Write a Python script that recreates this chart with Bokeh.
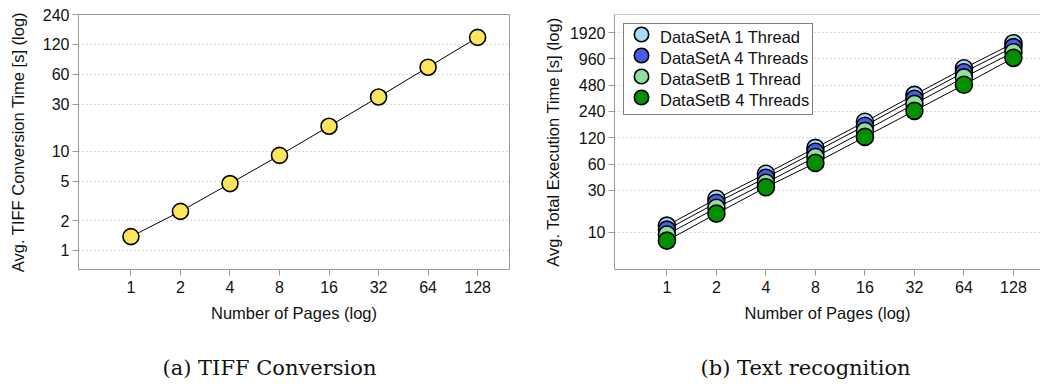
from bokeh.plotting import figure
from bokeh.models import (FixedTicker, Range1d, Legend, LegendItem, Title, Span,
                          PrintfTickFormatter)
from bokeh.layouts import row
from bokeh.embed import file_html
from bokeh.resources import INLINE

# ---- data ----
pages = [1, 2, 4, 8, 16, 32, 64, 128]
tiff_time = [1.38, 2.48, 4.73, 9.1, 17.9, 35.3, 70.6, 141]

a_1thread = [11.9, 24.1, 46.6, 92, 183, 372, 748, 1450]
a_4threads = [10.7, 21.7, 42.0, 83, 165, 335, 674, 1306]
b_1thread = [9.4, 19.0, 36.7, 72.4, 144, 293, 589, 1142]
b_4threads = [8.0, 16.3, 32.7, 62, 123, 244, 485, 985]

series_names = ["DataSetA 1 Thread", "DataSetA 4 Threads",
                "DataSetB 1 Thread", "DataSetB 4 Threads"]
series_colors = ["#a4dbf5", "#4a5be8", "#8fe09f", "#009000"]

left_yticks = [1, 2, 5, 10, 30, 60, 120, 240]
right_yticks = [10, 30, 60, 120, 240, 480, 960, 1920]

SANS = "Liberation Sans"
GRAY = "#9a9a9a"


def style(p, yticks, label_standoff):
    p.xaxis.ticker = FixedTicker(ticks=pages)
    p.yaxis.ticker = FixedTicker(ticks=yticks)
    p.xaxis.formatter = PrintfTickFormatter(format="%d")
    p.yaxis.formatter = PrintfTickFormatter(format="%d")
    p.xgrid.visible = False
    p.ygrid.grid_line_color = "#b0b0b0"
    p.ygrid.grid_line_dash = "1 3"
    p.ygrid.grid_line_width = 1
    for ax in (p.xaxis[0], p.yaxis[0]):
        ax.axis_line_color = GRAY
        ax.major_tick_line_color = GRAY
        ax.minor_tick_line_color = None
        ax.major_tick_out = 6
        ax.major_tick_in = 0
        ax.major_label_text_font = SANS
        ax.major_label_text_font_size = "16px"
        ax.major_label_text_color = "#111111"
        ax.axis_label_text_font = SANS
        ax.axis_label_text_font_size = "16.5px"
        ax.axis_label_text_font_style = "normal"
        ax.axis_label_text_color = "#111111"
    p.xaxis.major_label_standoff = 5
    p.xaxis.axis_label_standoff = 8
    p.yaxis.major_label_standoff = 3
    p.yaxis.axis_label_standoff = label_standoff
    p.background_fill_color = "white"
    p.border_fill_color = "white"


def caption(p, text, offset):
    # leading empty line pushes the caption further below the axis label
    p.add_layout(Title(text="\n" + text, align="left", vertical_align="bottom",
                       text_font="DejaVu Serif", text_font_size="21px",
                       text_font_style="normal", text_color="#111111",
                       offset=offset, standoff=10), "below")


# ---- (a) TIFF conversion ----
p1 = figure(width=520, height=387, x_axis_type="log", y_axis_type="log",
            x_range=Range1d(0.48, 200), y_range=Range1d(0.643, 240),
            output_backend="svg", toolbar_location=None,
            min_border_left=78, min_border_right=11, min_border_top=14,
            min_border_bottom=118)
p1.outline_line_color = GRAY
p1.line(pages, tiff_time, line_color="black", line_width=1)
p1.scatter(pages, tiff_time, size=16, fill_color="#fde55e", line_color="black",
           line_width=1.6)
p1.xaxis.axis_label = "Number of Pages (log)"
p1.yaxis.axis_label = "Avg. TIFF Conversion Time [s] (log)"
style(p1, left_yticks, 13)
caption(p1, "(a) TIFF Conversion", 84)

# ---- (b) Text recognition ----
p2 = figure(width=520, height=387, x_axis_type="log", y_axis_type="log",
            x_range=Range1d(0.48, 187), y_range=Range1d(3.745, 3085),
            output_backend="svg", toolbar_location=None,
            min_border_left=94, min_border_right=0, min_border_top=14,
            min_border_bottom=118)
p2.outline_line_color = None
p2.add_layout(Span(location=3085, dimension="width", line_color=GRAY,
                   line_width=1))
series = [a_1thread, a_4threads, b_1thread, b_4threads]
for vals in series:
    p2.line(pages, vals, line_color="black", line_width=1)
real = []
for vals, col in zip(series, series_colors):
    real.append(p2.scatter(pages, vals, size=17, fill_color=col,
                           line_color="black", line_width=1.6))

# main legend box with labels (glyphs drawn by separate overlay legends)
hidden = p2.scatter([], [], fill_alpha=0, line_alpha=0)
main_items = [LegendItem(label=n, renderers=[hidden]) for n in series_names]
main = Legend(items=main_items, location="top_left", margin=9, padding=3,
              spacing=0, glyph_height=21, glyph_width=27, label_height=21,
              label_standoff=6, border_line_color="black",
              border_line_width=1, background_fill_alpha=1,
              label_text_font=SANS, label_text_font_size="16.5px",
              label_text_color="#111111")
p2.add_layout(main)
for k, r in enumerate(real):
    lg = Legend(items=[LegendItem(label=" ", renderers=[r])],
                location=(9, 217 - 21 * k), margin=0, padding=0, spacing=0,
                glyph_height=36, glyph_width=36, label_height=10,
                label_standoff=0, border_line_color=None,
                background_fill_alpha=0, label_text_font_size="1px")
    p2.add_layout(lg)
p2.xaxis.axis_label = "Number of Pages (log)"
p2.yaxis.axis_label = "Avg. Total Execution Time [s] (log)"
style(p2, right_yticks, 5)
caption(p2, "(b) Text recognition", 86)

layout = row(p1, p2)
open("out.html", "w").write(file_html(layout, INLINE))
